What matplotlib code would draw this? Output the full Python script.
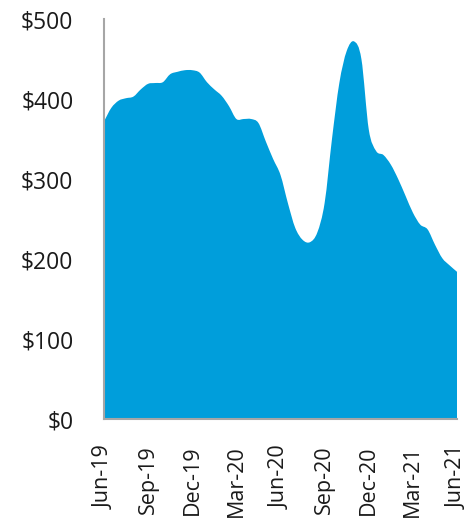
import numpy as np
import matplotlib
matplotlib.use("Agg")
import matplotlib.pyplot as plt
from matplotlib.path import Path
from matplotlib.patches import PathPatch

months = ["Jun-19", "Jul-19", "Aug-19", "Sep-19", "Oct-19", "Nov-19", "Dec-19",
          "Jan-20", "Feb-20", "Mar-20", "Apr-20", "May-20", "Jun-20", "Jul-20",
          "Aug-20", "Sep-20", "Oct-20", "Nov-20", "Dec-20", "Jan-21", "Feb-21",
          "Mar-21", "Apr-21", "May-21", "Jun-21"]
# semi-monthly readings (start and middle of each month), Jun-19 .. Jun-21
values = [372, 389, 398, 401, 403, 412, 419, 420, 421, 431, 434, 436, 436,
          433, 421, 412, 404, 391, 375, 375, 375, 370, 347, 325, 305,
          270, 239, 224, 221, 233, 270, 350, 420, 460, 472, 450, 362,
          335, 330, 318, 300, 279, 258, 243, 237, 218, 201, 192, 184]
tick_labels = ["Jun-19", "Sep-19", "Dec-19", "Mar-20", "Jun-20", "Sep-20",
               "Dec-20", "Mar-21", "Jun-21"]
y_ticks = [0, 100, 200, 300, 400, 500]

plt.rcParams['font.family'] = ['Open Sans', 'DejaVu Sans']

fig = plt.figure(figsize=(4.67, 5.23), dpi=100)
ax = fig.add_axes([104/467, 104/523, (457-104)/467, (419-19)/523])

x = np.arange(len(values), dtype=float) / 2.0
y = np.array(values, dtype=float)

# Catmull-Rom style tangents for smooth rendering between readings
h = np.diff(x)
d = np.diff(y) / h
m = np.zeros_like(y)
m[0], m[-1] = d[0], d[-1]
m[1:-1] = (y[2:] - y[:-2]) / (x[2:] - x[:-2])

verts = [(x[0], 0), (x[0], y[0])]
codes = [Path.MOVETO, Path.LINETO]
for i in range(len(x) - 1):
    hh = h[i]
    verts += [(x[i] + hh/3, y[i] + m[i]*hh/3),
              (x[i+1] - hh/3, y[i+1] - m[i+1]*hh/3),
              (x[i+1], y[i+1])]
    codes += [Path.CURVE4] * 3
verts += [(x[-1], 0), (x[0], 0)]
codes += [Path.LINETO, Path.CLOSEPOLY]
ax.add_patch(PathPatch(Path(verts, codes), facecolor='#009edb', edgecolor='none'))

ax.set_xlim(0, len(months) - 1)
ax.set_ylim(0, 500)
ax.set_xticks([months.index(t) for t in tick_labels])
ax.set_xticklabels(tick_labels, rotation=90, fontsize=15.5, color='#1a1a1a')
ax.set_yticks(y_ticks)
ax.set_yticklabels([f"${v}" for v in y_ticks], fontsize=16.5, color='#1a1a1a')
ax.tick_params(axis='x', length=0, pad=19)
ax.tick_params(axis='y', length=0, pad=22)
for s in ['top', 'right']:
    ax.spines[s].set_visible(False)
for s in ['left', 'bottom']:
    ax.spines[s].set_color('#a6a6a6')
    ax.spines[s].set_linewidth(1.5)
ax.set_facecolor('white')
fig.savefig('out.png', dpi=100)
